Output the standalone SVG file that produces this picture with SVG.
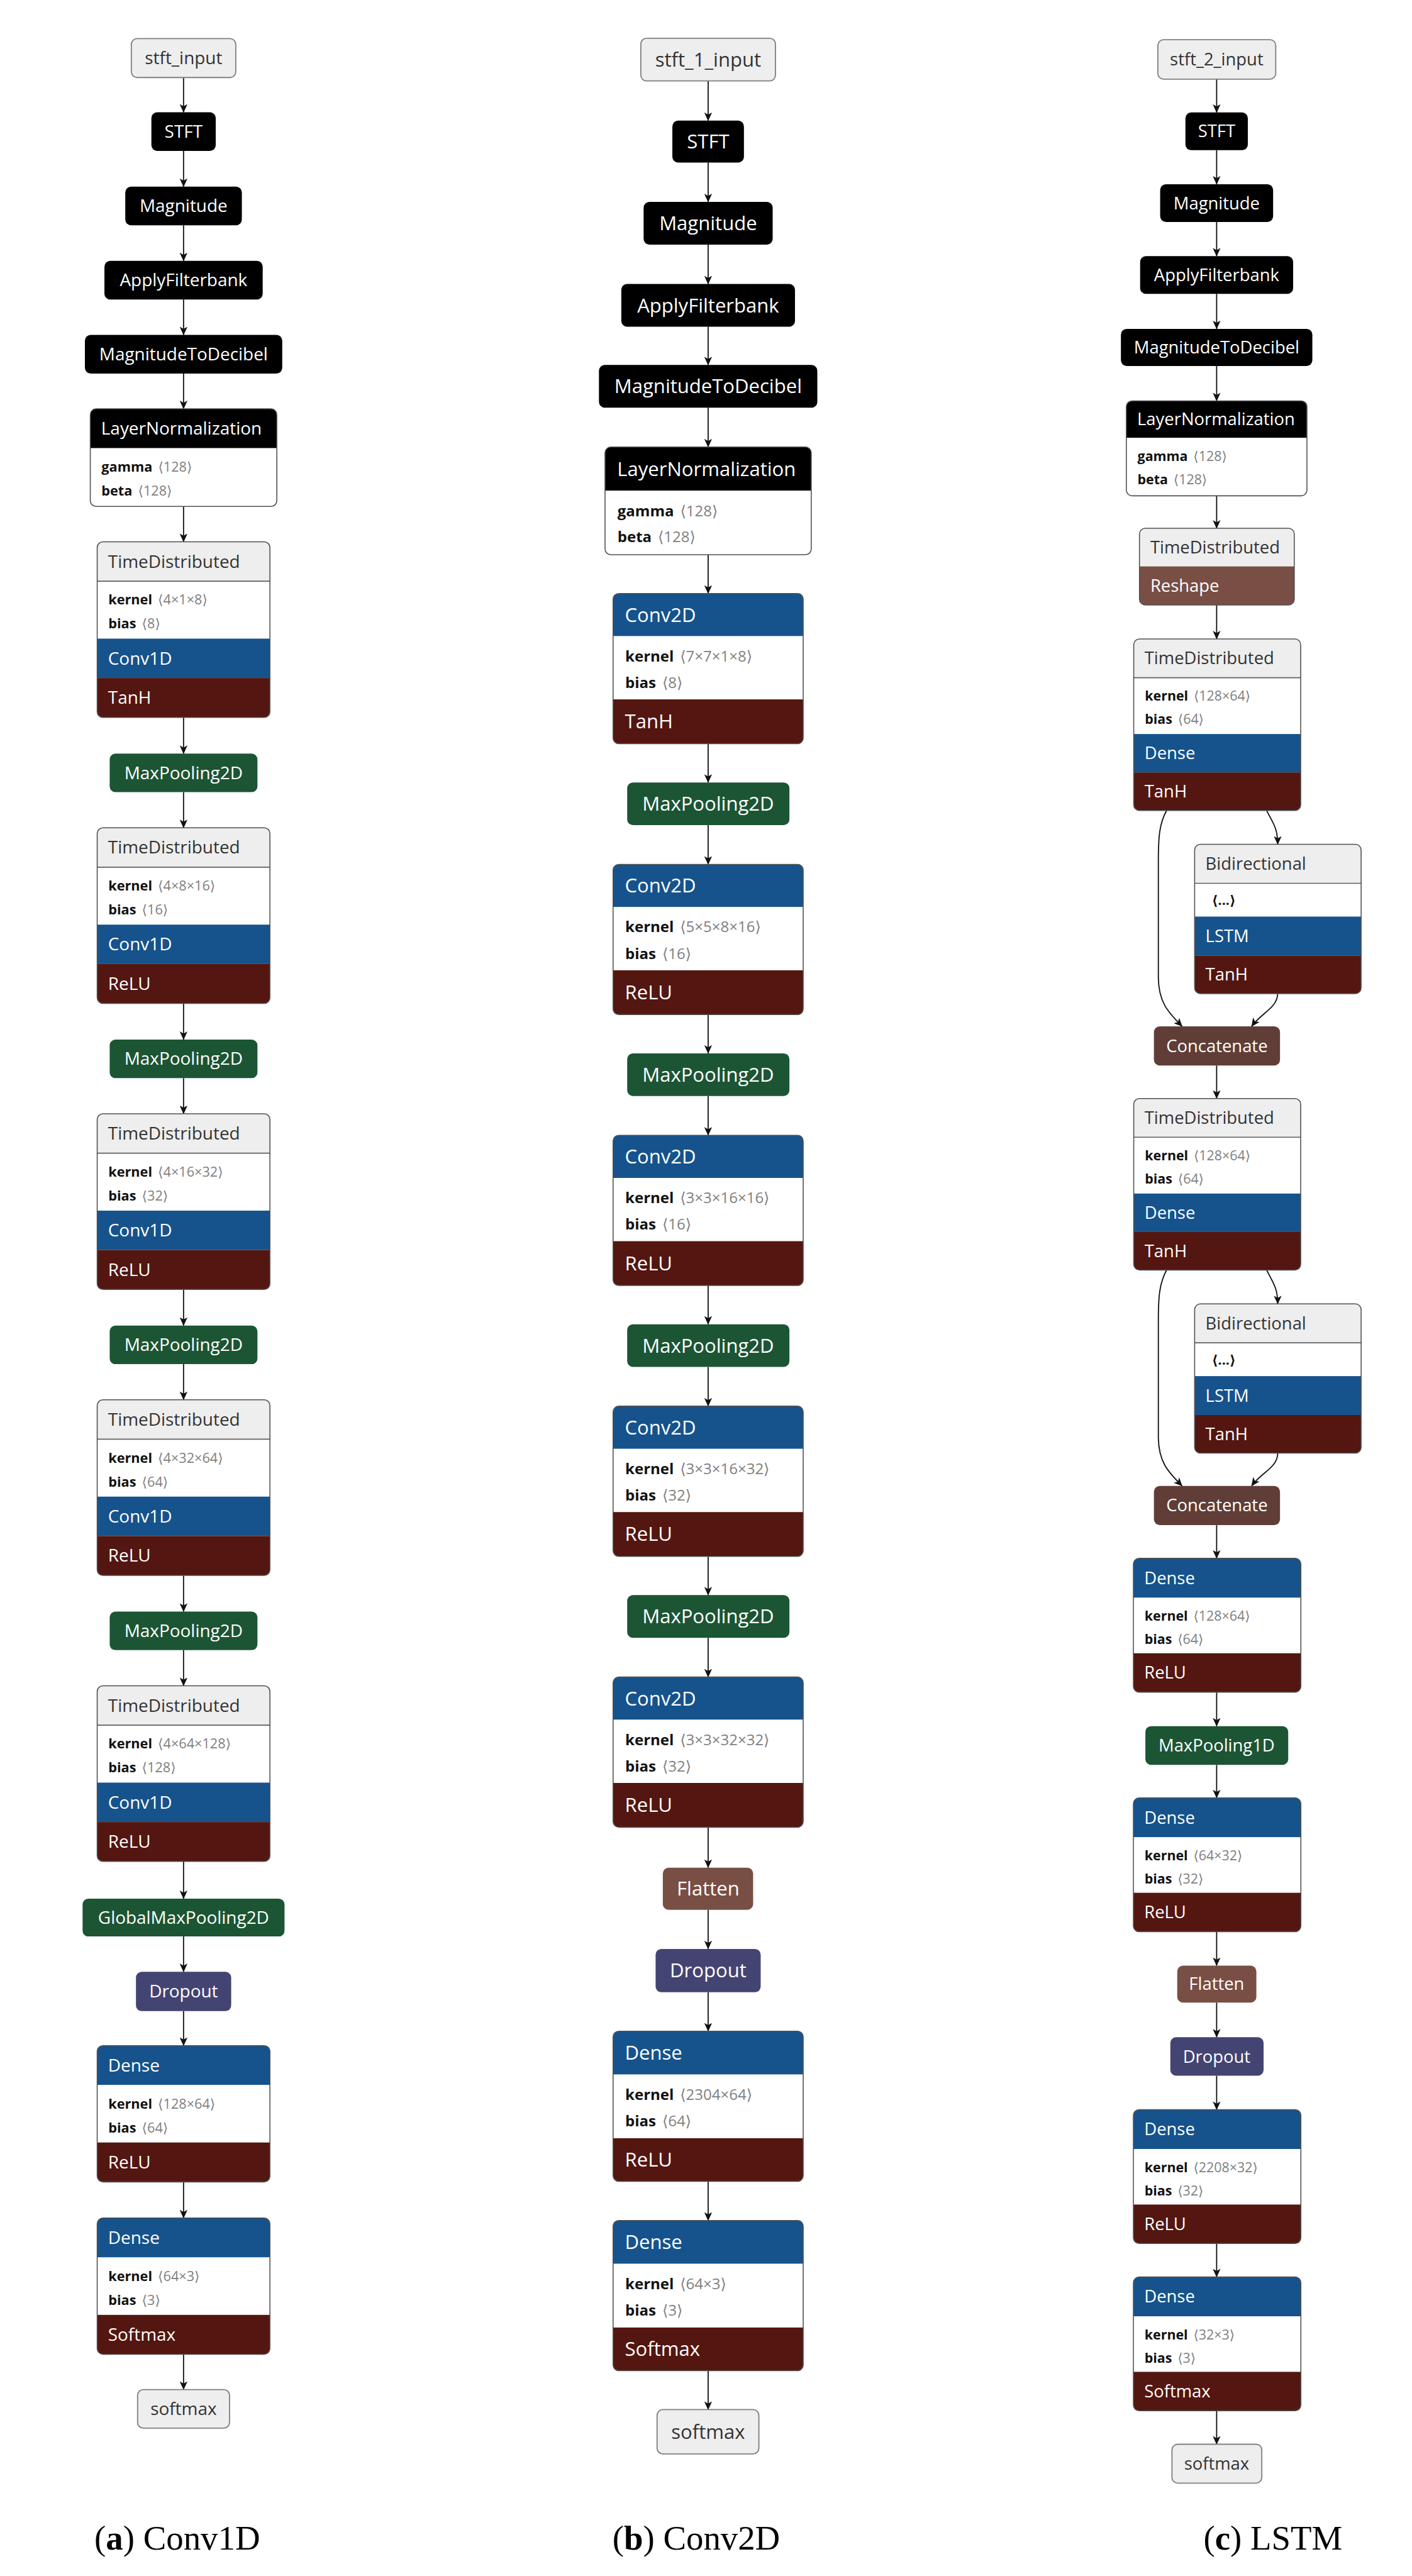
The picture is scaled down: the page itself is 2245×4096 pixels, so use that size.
<svg xmlns="http://www.w3.org/2000/svg" width="2245" height="4096" viewBox="0 0 2245 4096">
<style>
text { font-family: "Open Sans", "DejaVu Sans", sans-serif; }
.tw { fill: #ffffff; }
.tg { fill: #333333; }
.k { font-weight: 700; fill: #111111; }
.v { fill: #808080; }
.cap { font-family: "Liberation Serif", "Times New Roman", serif; font-size: 21px; fill: #000; }
.ol { fill: none; stroke: #505050; stroke-width: 0.6; }
.lt { fill: #eeeeee; stroke: #808080; stroke-width: 0.7; }
.bk { fill: #000000; }
.gh { fill: #eeeeee; }
.wh { fill: #ffffff; }
.bl { fill: #16538c; }
.rd { fill: #541610; }
.gn { fill: #1c5534; }
.dp { fill: #444473; }
.sh { fill: #794e44; }
.tn { fill: #603e37; }
.sep { stroke: #606060; stroke-width: 0.6; }
.e { fill: none; stroke: #111111; stroke-width: 0.7; marker-end: url(#ah); }
.fa { font-size: 10.7px; }
.fba { font-size: 8.3px; }
.fb { font-size: 11.9px; }
.fbb { font-size: 9.2px; }
.fc { font-size: 10.5px; }
.fbc { font-size: 8.2px; }
</style>
<defs>
<marker id="ah" viewBox="0 0 10 10" markerWidth="7.5" markerHeight="7.5" refX="9.5" refY="5" orient="auto">
<path d="M0,0.5 L10,5 L0,9.5 L2.5,5 z" fill="#111111"/>
</marker>
<clipPath id="cA_ln"><rect width="113.6" height="59.5" rx="3.5"/></clipPath>
<clipPath id="cA_td"><rect width="105.2" height="107" rx="3.5"/></clipPath>
<clipPath id="cA_d"><rect width="105.2" height="83" rx="3.5"/></clipPath>
<clipPath id="cB_ln"><rect width="125.6" height="65.6" rx="3.5"/></clipPath>
<clipPath id="cB_cv"><rect width="115.8" height="91.5" rx="3.5"/></clipPath>
<clipPath id="cC_ln"><rect width="110" height="57.8" rx="3.5"/></clipPath>
<clipPath id="cC_rs"><rect width="94.3" height="46.7" rx="3.5"/></clipPath>
<clipPath id="cC_td"><rect width="101.7" height="104.5" rx="3.5"/></clipPath>
<clipPath id="cC_bi"><rect width="101.4" height="90.9" rx="3.5"/></clipPath>
<clipPath id="cC_d"><rect width="102" height="81.5" rx="3.5"/></clipPath>
</defs>
<rect width="2245" height="4096" fill="#ffffff"/>
<g transform="scale(2.6105)">

<g id="connectors">
<path class="e" d="M111.8,47.2 V68.4"/>
<path class="e" d="M111.8,91.9 V113.7"/>
<path class="e" d="M111.8,137.2 V158.9"/>
<path class="e" d="M111.8,182.4 V204"/>
<path class="e" d="M111.8,227.5 V249"/>
<path class="e" d="M111.8,308.5 V330"/>
<path class="e" d="M111.8,437 V459"/>
<path class="e" d="M111.8,482.5 V504.2"/>
<path class="e" d="M111.8,611.2 V633.2"/>
<path class="e" d="M111.8,656.7 V678.4"/>
<path class="e" d="M111.8,785.4 V807.4"/>
<path class="e" d="M111.8,830.9 V852.6"/>
<path class="e" d="M111.8,959.6 V981.6"/>
<path class="e" d="M111.8,1005.1 V1026.8"/>
<path class="e" d="M111.8,1133.8 V1156.5"/>
<path class="e" d="M111.8,1179.5 V1201"/>
<path class="e" d="M111.8,1225 V1246"/>
<path class="e" d="M111.8,1329 V1351"/>
<path class="e" d="M111.8,1434 V1455.5"/>

<path class="e" d="M431.3,49.3 V73.5"/>
<path class="e" d="M431.3,99 V123"/>
<path class="e" d="M431.3,149 V173"/>
<path class="e" d="M431.3,199 V222.3"/>
<path class="e" d="M431.3,248.3 V272.3"/>
<path class="e" d="M431.3,337.9 V361.5"/>
<path class="e" d="M431.3,453 V476.6"/>
<path class="e" d="M431.3,502.6 V526.5"/>
<path class="e" d="M431.3,618 V641.6"/>
<path class="e" d="M431.3,667.6 V691.5"/>
<path class="e" d="M431.3,783 V806.6"/>
<path class="e" d="M431.3,832.6 V856.5"/>
<path class="e" d="M431.3,948 V971.6"/>
<path class="e" d="M431.3,997.6 V1021.5"/>
<path class="e" d="M431.3,1113 V1137.6"/>
<path class="e" d="M431.3,1163.3 V1187.1"/>
<path class="e" d="M431.3,1213.5 V1237.2"/>
<path class="e" d="M431.3,1328.7 V1352.5"/>
<path class="e" d="M431.3,1444 V1467.7"/>

<path class="e" d="M741,48.2 V68.5"/>
<path class="e" d="M741,91.5 V112.2"/>
<path class="e" d="M741,135.2 V156"/>
<path class="e" d="M741,179 V200.3"/>
<path class="e" d="M741,222.9 V244.2"/>
<path class="e" d="M741,302 V321.8"/>
<path class="e" d="M741,368.5 V389.2"/>
<path class="e" d="M771.5,493.7 C775,501 778.2,504 778.2,514.3"/>
<path class="e" d="M710.5,493.7 C706,502 705.5,510 705.5,525 L705.5,595 C705.5,611 712,617 720,625.2"/>
<path class="e" d="M778.2,604.9 C778.2,614 768,617 762.3,625.2"/>
<path class="e" d="M741,649 V669.1"/>
<path class="e" d="M771.5,773.6 C775,781 778.2,784 778.2,794.2"/>
<path class="e" d="M710.5,773.6 C706,782 705.5,790 705.5,805 L705.5,875 C705.5,891 712,897 720,905.1"/>
<path class="e" d="M778.2,885.1 C778.2,894 768,897 762.3,905.1"/>
<path class="e" d="M741,929 V949.2"/>
<path class="e" d="M741,1030.7 V1051.4"/>
<path class="e" d="M741,1075 V1095.1"/>
<path class="e" d="M741,1176.6 V1197.3"/>
<path class="e" d="M741,1219.8 V1240.9"/>
<path class="e" d="M741,1264.3 V1285"/>
<path class="e" d="M741,1366.2 V1386.9"/>
<path class="e" d="M741,1468 V1488.8"/>
</g>

<!-- Column (a) -->
<g id="a_stft_input"><rect class="lt" x="80" y="23.5" width="63.6" height="23.7" rx="3.5"/><text class="tg fa" x="111.8" y="39.1" text-anchor="middle">stft_input</text></g>
<g id="a_stft"><rect class="bk" x="92.2" y="68.4" width="39.2" height="23.5" rx="3.5"/><text class="tw fa" x="111.8" y="83.9" text-anchor="middle">STFT</text></g>
<g id="a_magnitude"><rect class="bk" x="76.3" y="113.7" width="71" height="23.5" rx="3.5"/><text class="tw fa" x="111.8" y="129.2" text-anchor="middle">Magnitude</text></g>
<g id="a_applyfilterbank"><rect class="bk" x="63.6" y="158.9" width="96.4" height="23.5" rx="3.5"/><text class="tw fa" x="111.8" y="174.4" text-anchor="middle">ApplyFilterbank</text></g>
<g id="a_magtodb"><rect class="bk" x="51.7" y="204" width="120.2" height="23.5" rx="3.5"/><text class="tw fa" x="111.8" y="219.5" text-anchor="middle">MagnitudeToDecibel</text></g>
<g id="a_layernorm" transform="translate(55,249)">
<g clip-path="url(#cA_ln)"><rect class="bk" width="113.6" height="24"/><rect class="wh" y="24" width="113.6" height="35.5"/></g>
<rect class="ol" width="113.6" height="59.5" rx="3.5"/>
<text class="tw fa" x="6.6" y="15.75">LayerNormalization</text>
<text class="fba" x="6.8" y="38.3"><tspan class="k">gamma</tspan><tspan class="v" dx="3.5">⟨128⟩</tspan></text>
<text class="fba" x="6.8" y="52.8"><tspan class="k">beta</tspan><tspan class="v" dx="3.5">⟨128⟩</tspan></text>
</g>

<g id="a_td1" transform="translate(59.2,330)">
<g clip-path="url(#cA_td)"><rect class="gh" width="105.2" height="24"/><rect class="wh" y="24" width="105.2" height="35"/><rect class="bl" y="59" width="105.2" height="24"/><rect class="rd" y="83" width="105.2" height="24"/></g>
<line class="sep" x1="0" y1="24" x2="105.2" y2="24"/><rect class="ol" width="105.2" height="107" rx="3.5"/>
<text class="tg fa" x="6.6" y="15.75">TimeDistributed</text>
<text class="fba" x="6.8" y="38.3"><tspan class="k">kernel</tspan><tspan class="v" dx="3.5">⟨4×1×8⟩</tspan></text>
<text class="fba" x="6.8" y="52.8"><tspan class="k">bias</tspan><tspan class="v" dx="3.5">⟨8⟩</tspan></text>
<text class="tw fa" x="6.6" y="74.75">Conv1D</text>
<text class="tw fa" x="6.6" y="98.75">TanH</text>
</g>
<g id="a_mp1"><rect class="gn" x="66.8" y="459" width="90" height="23.5" rx="3.5"/><text class="tw fa" x="111.8" y="474.5" text-anchor="middle">MaxPooling2D</text></g>
<g id="a_td2" transform="translate(59.2,504.2)">
<g clip-path="url(#cA_td)"><rect class="gh" width="105.2" height="24"/><rect class="wh" y="24" width="105.2" height="35"/><rect class="bl" y="59" width="105.2" height="24"/><rect class="rd" y="83" width="105.2" height="24"/></g>
<line class="sep" x1="0" y1="24" x2="105.2" y2="24"/><rect class="ol" width="105.2" height="107" rx="3.5"/>
<text class="tg fa" x="6.6" y="15.75">TimeDistributed</text>
<text class="fba" x="6.8" y="38.3"><tspan class="k">kernel</tspan><tspan class="v" dx="3.5">⟨4×8×16⟩</tspan></text>
<text class="fba" x="6.8" y="52.8"><tspan class="k">bias</tspan><tspan class="v" dx="3.5">⟨16⟩</tspan></text>
<text class="tw fa" x="6.6" y="74.75">Conv1D</text>
<text class="tw fa" x="6.6" y="98.75">ReLU</text>
</g>
<g id="a_mp2"><rect class="gn" x="66.8" y="633.2" width="90" height="23.5" rx="3.5"/><text class="tw fa" x="111.8" y="648.7" text-anchor="middle">MaxPooling2D</text></g>
<g id="a_td3" transform="translate(59.2,678.4)">
<g clip-path="url(#cA_td)"><rect class="gh" width="105.2" height="24"/><rect class="wh" y="24" width="105.2" height="35"/><rect class="bl" y="59" width="105.2" height="24"/><rect class="rd" y="83" width="105.2" height="24"/></g>
<line class="sep" x1="0" y1="24" x2="105.2" y2="24"/><rect class="ol" width="105.2" height="107" rx="3.5"/>
<text class="tg fa" x="6.6" y="15.75">TimeDistributed</text>
<text class="fba" x="6.8" y="38.3"><tspan class="k">kernel</tspan><tspan class="v" dx="3.5">⟨4×16×32⟩</tspan></text>
<text class="fba" x="6.8" y="52.8"><tspan class="k">bias</tspan><tspan class="v" dx="3.5">⟨32⟩</tspan></text>
<text class="tw fa" x="6.6" y="74.75">Conv1D</text>
<text class="tw fa" x="6.6" y="98.75">ReLU</text>
</g>
<g id="a_mp3"><rect class="gn" x="66.8" y="807.4" width="90" height="23.5" rx="3.5"/><text class="tw fa" x="111.8" y="822.9" text-anchor="middle">MaxPooling2D</text></g>
<g id="a_td4" transform="translate(59.2,852.6)">
<g clip-path="url(#cA_td)"><rect class="gh" width="105.2" height="24"/><rect class="wh" y="24" width="105.2" height="35"/><rect class="bl" y="59" width="105.2" height="24"/><rect class="rd" y="83" width="105.2" height="24"/></g>
<line class="sep" x1="0" y1="24" x2="105.2" y2="24"/><rect class="ol" width="105.2" height="107" rx="3.5"/>
<text class="tg fa" x="6.6" y="15.75">TimeDistributed</text>
<text class="fba" x="6.8" y="38.3"><tspan class="k">kernel</tspan><tspan class="v" dx="3.5">⟨4×32×64⟩</tspan></text>
<text class="fba" x="6.8" y="52.8"><tspan class="k">bias</tspan><tspan class="v" dx="3.5">⟨64⟩</tspan></text>
<text class="tw fa" x="6.6" y="74.75">Conv1D</text>
<text class="tw fa" x="6.6" y="98.75">ReLU</text>
</g>
<g id="a_mp4"><rect class="gn" x="66.8" y="981.6" width="90" height="23.5" rx="3.5"/><text class="tw fa" x="111.8" y="997.1" text-anchor="middle">MaxPooling2D</text></g>
<g id="a_td5" transform="translate(59.2,1026.8)">
<g clip-path="url(#cA_td)"><rect class="gh" width="105.2" height="24"/><rect class="wh" y="24" width="105.2" height="35"/><rect class="bl" y="59" width="105.2" height="24"/><rect class="rd" y="83" width="105.2" height="24"/></g>
<line class="sep" x1="0" y1="24" x2="105.2" y2="24"/><rect class="ol" width="105.2" height="107" rx="3.5"/>
<text class="tg fa" x="6.6" y="15.75">TimeDistributed</text>
<text class="fba" x="6.8" y="38.3"><tspan class="k">kernel</tspan><tspan class="v" dx="3.5">⟨4×64×128⟩</tspan></text>
<text class="fba" x="6.8" y="52.8"><tspan class="k">bias</tspan><tspan class="v" dx="3.5">⟨128⟩</tspan></text>
<text class="tw fa" x="6.6" y="74.75">Conv1D</text>
<text class="tw fa" x="6.6" y="98.75">ReLU</text>
</g>
<g id="a_gmp"><rect class="gn" x="50.3" y="1156.5" width="123" height="23" rx="3.5"/><text class="tw fa" x="111.8" y="1171.75" text-anchor="middle">GlobalMaxPooling2D</text></g>
<g id="a_dropout"><rect class="dp" x="82.8" y="1201" width="58" height="24" rx="3.5"/><text class="tw fa" x="111.8" y="1216.75" text-anchor="middle">Dropout</text></g>
<g id="a_dense1" transform="translate(59.2,1246)">
<g clip-path="url(#cA_d)"><rect class="bl" width="105.2" height="24"/><rect class="wh" y="24" width="105.2" height="35"/><rect class="rd" y="59" width="105.2" height="24"/></g>
<rect class="ol" width="105.2" height="83" rx="3.5"/>
<text class="tw fa" x="6.6" y="15.75">Dense</text>
<text class="fba" x="6.8" y="38.3"><tspan class="k">kernel</tspan><tspan class="v" dx="3.5">⟨128×64⟩</tspan></text>
<text class="fba" x="6.8" y="52.8"><tspan class="k">bias</tspan><tspan class="v" dx="3.5">⟨64⟩</tspan></text>
<text class="tw fa" x="6.6" y="74.75">ReLU</text>
</g>
<g id="a_dense2" transform="translate(59.2,1351)">
<g clip-path="url(#cA_d)"><rect class="bl" width="105.2" height="24"/><rect class="wh" y="24" width="105.2" height="35"/><rect class="rd" y="59" width="105.2" height="24"/></g>
<rect class="ol" width="105.2" height="83" rx="3.5"/>
<text class="tw fa" x="6.6" y="15.75">Dense</text>
<text class="fba" x="6.8" y="38.3"><tspan class="k">kernel</tspan><tspan class="v" dx="3.5">⟨64×3⟩</tspan></text>
<text class="fba" x="6.8" y="52.8"><tspan class="k">bias</tspan><tspan class="v" dx="3.5">⟨3⟩</tspan></text>
<text class="tw fa" x="6.6" y="74.75">Softmax</text>
</g>
<g id="a_softmax"><rect class="lt" x="83.8" y="1455.5" width="56" height="23.5" rx="3.5"/><text class="tg fa" x="111.8" y="1471" text-anchor="middle">softmax</text></g>

<!-- Column (b) -->
<g id="b_stft_input"><rect class="lt" x="390.3" y="23.3" width="82" height="26" rx="3.5"/><text class="tg fb" x="431.3" y="40.5" text-anchor="middle">stft_1_input</text></g>
<g id="b_stft"><rect class="bk" x="409.5" y="73.5" width="43.6" height="25.5" rx="3.5"/><text class="tw fb" x="431.3" y="90.4" text-anchor="middle">STFT</text></g>
<g id="b_magnitude"><rect class="bk" x="392" y="123" width="78.6" height="26" rx="3.5"/><text class="tw fb" x="431.3" y="140.2" text-anchor="middle">Magnitude</text></g>
<g id="b_applyfilterbank"><rect class="bk" x="378.4" y="173" width="105.8" height="26" rx="3.5"/><text class="tw fb" x="431.3" y="190.2" text-anchor="middle">ApplyFilterbank</text></g>
<g id="b_magtodb"><rect class="bk" x="364.8" y="222.3" width="133" height="26" rx="3.5"/><text class="tw fb" x="431.3" y="239.5" text-anchor="middle">MagnitudeToDecibel</text></g>
<g id="b_layernorm" transform="translate(368.5,272.3)">
<g clip-path="url(#cB_ln)"><rect class="bk" width="125.6" height="26.6"/><rect class="wh" y="26.6" width="125.6" height="39"/></g>
<rect class="ol" width="125.6" height="65.6" rx="3.5"/>
<text class="tw fb" x="7.4" y="17.5">LayerNormalization</text>
<text class="fbb" x="7.6" y="42.1"><tspan class="k">gamma</tspan><tspan class="v" dx="3.8">⟨128⟩</tspan></text>
<text class="fbb" x="7.6" y="58.1"><tspan class="k">beta</tspan><tspan class="v" dx="3.8">⟨128⟩</tspan></text>
</g>
<g id="b_conv1" transform="translate(373.4,361.5)">
<g clip-path="url(#cB_cv)"><rect class="bl" width="115.8" height="26"/><rect class="wh" y="26" width="115.8" height="38.5"/><rect class="rd" y="64.5" width="115.8" height="27"/></g>
<rect class="ol" width="115.8" height="91.5" rx="3.5"/>
<text class="tw fb" x="7.2" y="17.2">Conv2D</text>
<text class="fbb" x="7.4" y="41.4"><tspan class="k">kernel</tspan><tspan class="v" dx="3.8">⟨7×7×1×8⟩</tspan></text>
<text class="fbb" x="7.4" y="57.5"><tspan class="k">bias</tspan><tspan class="v" dx="3.8">⟨8⟩</tspan></text>
<text class="tw fb" x="7.2" y="82.2">TanH</text>
</g>
<g id="b_mp1"><rect class="gn" x="382" y="476.6" width="98.8" height="26" rx="3.5"/><text class="tw fb" x="431.3" y="493.8" text-anchor="middle">MaxPooling2D</text></g>
<g id="b_conv2" transform="translate(373.4,526.5)">
<g clip-path="url(#cB_cv)"><rect class="bl" width="115.8" height="26"/><rect class="wh" y="26" width="115.8" height="38.5"/><rect class="rd" y="64.5" width="115.8" height="27"/></g>
<rect class="ol" width="115.8" height="91.5" rx="3.5"/>
<text class="tw fb" x="7.2" y="17.2">Conv2D</text>
<text class="fbb" x="7.4" y="41.4"><tspan class="k">kernel</tspan><tspan class="v" dx="3.8">⟨5×5×8×16⟩</tspan></text>
<text class="fbb" x="7.4" y="57.5"><tspan class="k">bias</tspan><tspan class="v" dx="3.8">⟨16⟩</tspan></text>
<text class="tw fb" x="7.2" y="82.2">ReLU</text>
</g>
<g id="b_mp2"><rect class="gn" x="382" y="641.6" width="98.8" height="26" rx="3.5"/><text class="tw fb" x="431.3" y="658.8" text-anchor="middle">MaxPooling2D</text></g>
<g id="b_conv3" transform="translate(373.4,691.5)">
<g clip-path="url(#cB_cv)"><rect class="bl" width="115.8" height="26"/><rect class="wh" y="26" width="115.8" height="38.5"/><rect class="rd" y="64.5" width="115.8" height="27"/></g>
<rect class="ol" width="115.8" height="91.5" rx="3.5"/>
<text class="tw fb" x="7.2" y="17.2">Conv2D</text>
<text class="fbb" x="7.4" y="41.4"><tspan class="k">kernel</tspan><tspan class="v" dx="3.8">⟨3×3×16×16⟩</tspan></text>
<text class="fbb" x="7.4" y="57.5"><tspan class="k">bias</tspan><tspan class="v" dx="3.8">⟨16⟩</tspan></text>
<text class="tw fb" x="7.2" y="82.2">ReLU</text>
</g>
<g id="b_mp3"><rect class="gn" x="382" y="806.6" width="98.8" height="26" rx="3.5"/><text class="tw fb" x="431.3" y="823.8" text-anchor="middle">MaxPooling2D</text></g>
<g id="b_conv4" transform="translate(373.4,856.5)">
<g clip-path="url(#cB_cv)"><rect class="bl" width="115.8" height="26"/><rect class="wh" y="26" width="115.8" height="38.5"/><rect class="rd" y="64.5" width="115.8" height="27"/></g>
<rect class="ol" width="115.8" height="91.5" rx="3.5"/>
<text class="tw fb" x="7.2" y="17.2">Conv2D</text>
<text class="fbb" x="7.4" y="41.4"><tspan class="k">kernel</tspan><tspan class="v" dx="3.8">⟨3×3×16×32⟩</tspan></text>
<text class="fbb" x="7.4" y="57.5"><tspan class="k">bias</tspan><tspan class="v" dx="3.8">⟨32⟩</tspan></text>
<text class="tw fb" x="7.2" y="82.2">ReLU</text>
</g>
<g id="b_mp4"><rect class="gn" x="382" y="971.6" width="98.8" height="26" rx="3.5"/><text class="tw fb" x="431.3" y="988.8" text-anchor="middle">MaxPooling2D</text></g>
<g id="b_conv5" transform="translate(373.4,1021.5)">
<g clip-path="url(#cB_cv)"><rect class="bl" width="115.8" height="26"/><rect class="wh" y="26" width="115.8" height="38.5"/><rect class="rd" y="64.5" width="115.8" height="27"/></g>
<rect class="ol" width="115.8" height="91.5" rx="3.5"/>
<text class="tw fb" x="7.2" y="17.2">Conv2D</text>
<text class="fbb" x="7.4" y="41.4"><tspan class="k">kernel</tspan><tspan class="v" dx="3.8">⟨3×3×32×32⟩</tspan></text>
<text class="fbb" x="7.4" y="57.5"><tspan class="k">bias</tspan><tspan class="v" dx="3.8">⟨32⟩</tspan></text>
<text class="tw fb" x="7.2" y="82.2">ReLU</text>
</g>
<g id="b_flatten"><rect class="sh" x="403.7" y="1137.6" width="55" height="25.7" rx="3.5"/><text class="tw fb" x="431.3" y="1154.6" text-anchor="middle">Flatten</text></g>
<g id="b_dropout"><rect class="dp" x="399.3" y="1187.1" width="64" height="26.4" rx="3.5"/><text class="tw fb" x="431.3" y="1204.5" text-anchor="middle">Dropout</text></g>
<g id="b_dense1" transform="translate(373.4,1237.2)">
<g clip-path="url(#cB_cv)"><rect class="bl" width="115.8" height="26.4"/><rect class="wh" y="26.4" width="115.8" height="38.8"/><rect class="rd" y="65.2" width="115.8" height="26.3"/></g>
<rect class="ol" width="115.8" height="91.5" rx="3.5"/>
<text class="tw fb" x="7.2" y="17.4">Dense</text>
<text class="fbb" x="7.4" y="41.8"><tspan class="k">kernel</tspan><tspan class="v" dx="3.8">⟨2304×64⟩</tspan></text>
<text class="fbb" x="7.4" y="57.9"><tspan class="k">bias</tspan><tspan class="v" dx="3.8">⟨64⟩</tspan></text>
<text class="tw fb" x="7.2" y="82.5">ReLU</text>
</g>
<g id="b_dense2" transform="translate(373.4,1352.5)">
<g clip-path="url(#cB_cv)"><rect class="bl" width="115.8" height="26.4"/><rect class="wh" y="26.4" width="115.8" height="38.8"/><rect class="rd" y="65.2" width="115.8" height="26.3"/></g>
<rect class="ol" width="115.8" height="91.5" rx="3.5"/>
<text class="tw fb" x="7.2" y="17.4">Dense</text>
<text class="fbb" x="7.4" y="41.8"><tspan class="k">kernel</tspan><tspan class="v" dx="3.8">⟨64×3⟩</tspan></text>
<text class="fbb" x="7.4" y="57.9"><tspan class="k">bias</tspan><tspan class="v" dx="3.8">⟨3⟩</tspan></text>
<text class="tw fb" x="7.2" y="82.5">Softmax</text>
</g>
<g id="b_softmax"><rect class="lt" x="400.2" y="1467.7" width="62" height="27" rx="3.5"/><text class="tg fb" x="431.3" y="1485.4" text-anchor="middle">softmax</text></g>

<!-- Column (c) -->
<g id="c_stft_input"><rect class="lt" x="705.2" y="24.2" width="71.8" height="24" rx="3.5"/><text class="tg fc" x="741" y="39.9" text-anchor="middle">stft_2_input</text></g>
<g id="c_stft"><rect class="bk" x="722" y="68.5" width="38" height="23" rx="3.5"/><text class="tw fc" x="741" y="83.7" text-anchor="middle">STFT</text></g>
<g id="c_magnitude"><rect class="bk" x="706.6" y="112.2" width="68.8" height="23" rx="3.5"/><text class="tw fc" x="741" y="127.4" text-anchor="middle">Magnitude</text></g>
<g id="c_applyfilterbank"><rect class="bk" x="694.4" y="156" width="93.2" height="23" rx="3.5"/><text class="tw fc" x="741" y="171.2" text-anchor="middle">ApplyFilterbank</text></g>
<g id="c_magtodb"><rect class="bk" x="682.7" y="200.3" width="116.6" height="22.6" rx="3.5"/><text class="tw fc" x="741" y="215.3" text-anchor="middle">MagnitudeToDecibel</text></g>
<g id="c_layernorm" transform="translate(686,244.2)">
<g clip-path="url(#cC_ln)"><rect class="bk" width="110" height="22.5"/><rect class="wh" y="22.5" width="110" height="35.3"/></g>
<rect class="ol" width="110" height="57.8" rx="3.5"/>
<text class="tw fc" x="6.6" y="14.9">LayerNormalization</text>
<text class="fbc" x="6.8" y="36.6"><tspan class="k">gamma</tspan><tspan class="v" dx="3.4">⟨128⟩</tspan></text>
<text class="fbc" x="6.8" y="50.8"><tspan class="k">beta</tspan><tspan class="v" dx="3.4">⟨128⟩</tspan></text>
</g>
<g id="c_td_reshape" transform="translate(694,321.8)">
<g clip-path="url(#cC_rs)"><rect class="gh" width="94.3" height="23.2"/><rect class="sh" y="23.2" width="94.3" height="23.5"/></g>
<rect class="ol" width="94.3" height="46.7" rx="3.5"/>
<text class="tg fc" x="6.6" y="15.3">TimeDistributed</text>
<text class="tw fc" x="6.6" y="38.6">Reshape</text>
</g>
<g id="c_td_dense1" transform="translate(690.5,389.2)">
<g clip-path="url(#cC_td)"><rect class="gh" width="101.7" height="23.6"/><rect class="wh" y="23.6" width="101.7" height="34.3"/><rect class="bl" y="57.9" width="101.7" height="23.4"/><rect class="rd" y="81.3" width="101.7" height="23.2"/></g>
<line class="sep" x1="0" y1="23.6" x2="101.7" y2="23.6"/><rect class="ol" width="101.7" height="104.5" rx="3.5"/>
<text class="tg fc" x="6.6" y="15.5">TimeDistributed</text>
<text class="fbc" x="6.8" y="37.6"><tspan class="k">kernel</tspan><tspan class="v" dx="3.4">⟨128×64⟩</tspan></text>
<text class="fbc" x="6.8" y="51.8"><tspan class="k">bias</tspan><tspan class="v" dx="3.4">⟨64⟩</tspan></text>
<text class="tw fc" x="6.6" y="73.3">Dense</text>
<text class="tw fc" x="6.6" y="96.6">TanH</text>
</g>
<g id="c_bidir1" transform="translate(727.6,514.3)">
<g clip-path="url(#cC_bi)"><rect class="gh" width="101.4" height="23.7"/><rect class="wh" y="23.7" width="101.4" height="20.3"/><rect class="bl" y="44" width="101.4" height="23.7"/><rect class="rd" y="67.7" width="101.4" height="23.2"/></g>
<line class="sep" x1="0" y1="23.7" x2="101.4" y2="23.7"/><rect class="ol" width="101.4" height="90.9" rx="3.5"/>
<text class="tg fc" x="6.6" y="15.5">Bidirectional</text>
<text class="fbc k" x="10.5" y="37">⟨...⟩</text>
<text class="tw fc" x="6.6" y="59.5">LSTM</text>
<text class="tw fc" x="6.6" y="83">TanH</text>
</g>
<g id="c_concat1"><rect class="tn" x="702.8" y="625.2" width="76.8" height="23.8" rx="3.5"/><text class="tw fc" x="741.2" y="640.8" text-anchor="middle">Concatenate</text></g>
<g id="c_td_dense2" transform="translate(690.5,669.1)">
<g clip-path="url(#cC_td)"><rect class="gh" width="101.7" height="23.6"/><rect class="wh" y="23.6" width="101.7" height="34.3"/><rect class="bl" y="57.9" width="101.7" height="23.4"/><rect class="rd" y="81.3" width="101.7" height="23.2"/></g>
<line class="sep" x1="0" y1="23.6" x2="101.7" y2="23.6"/><rect class="ol" width="101.7" height="104.5" rx="3.5"/>
<text class="tg fc" x="6.6" y="15.5">TimeDistributed</text>
<text class="fbc" x="6.8" y="37.6"><tspan class="k">kernel</tspan><tspan class="v" dx="3.4">⟨128×64⟩</tspan></text>
<text class="fbc" x="6.8" y="51.8"><tspan class="k">bias</tspan><tspan class="v" dx="3.4">⟨64⟩</tspan></text>
<text class="tw fc" x="6.6" y="73.3">Dense</text>
<text class="tw fc" x="6.6" y="96.6">TanH</text>
</g>
<g id="c_bidir2" transform="translate(727.6,794.2)">
<g clip-path="url(#cC_bi)"><rect class="gh" width="101.4" height="23.7"/><rect class="wh" y="23.7" width="101.4" height="20.3"/><rect class="bl" y="44" width="101.4" height="23.7"/><rect class="rd" y="67.7" width="101.4" height="23.2"/></g>
<line class="sep" x1="0" y1="23.7" x2="101.4" y2="23.7"/><rect class="ol" width="101.4" height="90.9" rx="3.5"/>
<text class="tg fc" x="6.6" y="15.5">Bidirectional</text>
<text class="fbc k" x="10.5" y="37">⟨...⟩</text>
<text class="tw fc" x="6.6" y="59.5">LSTM</text>
<text class="tw fc" x="6.6" y="83">TanH</text>
</g>
<g id="c_concat2"><rect class="tn" x="702.8" y="905.1" width="76.8" height="23.8" rx="3.5"/><text class="tw fc" x="741.2" y="920.7" text-anchor="middle">Concatenate</text></g>
<g id="c_dense1" transform="translate(690.3,949.2)">
<g clip-path="url(#cC_d)"><rect class="bl" width="102" height="24"/><rect class="wh" y="24" width="102" height="33.8"/><rect class="rd" y="57.8" width="102" height="23.7"/></g>
<rect class="ol" width="102" height="81.5" rx="3.5"/>
<text class="tw fc" x="6.6" y="15.7">Dense</text>
<text class="fbc" x="6.8" y="38"><tspan class="k">kernel</tspan><tspan class="v" dx="3.4">⟨128×64⟩</tspan></text>
<text class="fbc" x="6.8" y="52.2"><tspan class="k">bias</tspan><tspan class="v" dx="3.4">⟨64⟩</tspan></text>
<text class="tw fc" x="6.6" y="73.3">ReLU</text>
</g>
<g id="c_mp1d"><rect class="gn" x="697.6" y="1051.4" width="87" height="23.6" rx="3.5"/><text class="tw fc" x="741" y="1066.9" text-anchor="middle">MaxPooling1D</text></g>
<g id="c_dense2" transform="translate(690.3,1095.1)">
<g clip-path="url(#cC_d)"><rect class="bl" width="102" height="24"/><rect class="wh" y="24" width="102" height="33.8"/><rect class="rd" y="57.8" width="102" height="23.7"/></g>
<rect class="ol" width="102" height="81.5" rx="3.5"/>
<text class="tw fc" x="6.6" y="15.7">Dense</text>
<text class="fbc" x="6.8" y="38"><tspan class="k">kernel</tspan><tspan class="v" dx="3.4">⟨64×32⟩</tspan></text>
<text class="fbc" x="6.8" y="52.2"><tspan class="k">bias</tspan><tspan class="v" dx="3.4">⟨32⟩</tspan></text>
<text class="tw fc" x="6.6" y="73.3">ReLU</text>
</g>
<g id="c_flatten"><rect class="sh" x="717" y="1197.3" width="48.2" height="22.5" rx="3.5"/><text class="tw fc" x="741" y="1212.2" text-anchor="middle">Flatten</text></g>
<g id="c_dropout"><rect class="dp" x="712.8" y="1240.9" width="56.8" height="23.4" rx="3.5"/><text class="tw fc" x="741" y="1256.3" text-anchor="middle">Dropout</text></g>
<g id="c_dense3" transform="translate(690.3,1285)">
<g clip-path="url(#cC_d)"><rect class="bl" width="102" height="24"/><rect class="wh" y="24" width="102" height="33.8"/><rect class="rd" y="57.8" width="102" height="23.7"/></g>
<rect class="ol" width="102" height="81.5" rx="3.5"/>
<text class="tw fc" x="6.6" y="15.7">Dense</text>
<text class="fbc" x="6.8" y="38"><tspan class="k">kernel</tspan><tspan class="v" dx="3.4">⟨2208×32⟩</tspan></text>
<text class="fbc" x="6.8" y="52.2"><tspan class="k">bias</tspan><tspan class="v" dx="3.4">⟨32⟩</tspan></text>
<text class="tw fc" x="6.6" y="73.3">ReLU</text>
</g>
<g id="c_dense4" transform="translate(690.3,1386.9)">
<g clip-path="url(#cC_d)"><rect class="bl" width="102" height="24"/><rect class="wh" y="24" width="102" height="33.8"/><rect class="rd" y="57.8" width="102" height="23.7"/></g>
<rect class="ol" width="102" height="81.5" rx="3.5"/>
<text class="tw fc" x="6.6" y="15.7">Dense</text>
<text class="fbc" x="6.8" y="38"><tspan class="k">kernel</tspan><tspan class="v" dx="3.4">⟨32×3⟩</tspan></text>
<text class="fbc" x="6.8" y="52.2"><tspan class="k">bias</tspan><tspan class="v" dx="3.4">⟨3⟩</tspan></text>
<text class="tw fc" x="6.6" y="73.3">Softmax</text>
</g>
<g id="c_softmax"><rect class="lt" x="713.8" y="1488.8" width="54.7" height="23.7" rx="3.5"/><text class="tg fc" x="741" y="1504.3" text-anchor="middle">softmax</text></g>

<!-- Captions -->
<g id="captions">
<text class="cap" x="57.5" y="1553">(<tspan font-weight="bold">a</tspan>) Conv1D</text>
<text class="cap" x="373" y="1553">(<tspan font-weight="bold">b</tspan>) Conv2D</text>
<text class="cap" x="733" y="1553">(<tspan font-weight="bold">c</tspan>) LSTM</text>
</g>
</g>
</svg>
